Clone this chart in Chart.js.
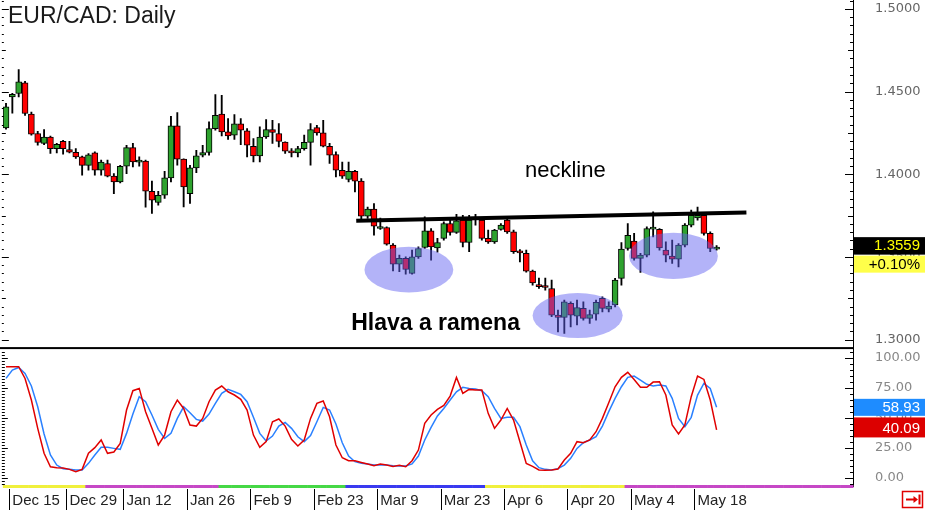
<!DOCTYPE html>
<html>
<head>
<meta charset="utf-8">
<script src="https://cdn.jsdelivr.net/npm/chart.js@4.4.1/dist/chart.umd.min.js"></script>
<style>
  html, body { margin: 0; padding: 0; background: #fff; }
  #wrap { position: relative; width: 925px; height: 510px; }
</style>
</head>
<body>
<div id="wrap"><canvas id="chart" width="925" height="510"></canvas></div>
<script>
// EUR/CAD daily candles, Dec 12 2014 .. May 21 2015
const open = [1.4280,1.4467,1.4488,1.4552,1.4363,1.4246,1.4186,1.4225,1.4155,1.4199,
  1.4149,1.4133,1.4105,1.4053,1.4129,1.4024,1.4065,1.3988,1.3953,1.4048,
  1.4161,1.4073,1.4079,1.3897,1.3829,1.3873,1.3978,1.4292,1.4091,1.3883,
  1.4038,1.4115,1.4131,1.4276,1.4363,1.4256,1.4236,1.4304,1.4262,1.4169,
  1.4111,1.4225,1.4270,1.4246,1.4195,1.4141,1.4129,1.4155,1.4192,1.4282,
  1.4250,1.4169,1.4119,1.4024,1.3968,1.4018,1.3958,1.3746,1.3789,1.3672,
  1.3678,1.3571,1.3456,1.3491,1.3400,1.3500,1.3557,1.3657,1.3555,1.3612,
  1.3702,1.3648,1.3722,1.3587,1.3734,1.3722,1.3612,1.3591,1.3666,1.3722,
  1.3651,1.3531,1.3521,1.3414,1.3326,1.3321,1.3309,1.3148,1.3134,1.3219,
  1.3142,1.3189,1.3128,1.3154,1.3249,1.3184,1.3209,1.3370,1.3551,1.3595,
  1.3491,1.3511,1.3668,1.3666,1.3541,1.3505,1.3486,1.3571,1.3692,1.3736,
  1.3752,1.3642,1.3547];
const high = [1.4429,1.4489,1.4633,1.4562,1.4375,1.4260,1.4270,1.4230,1.4186,1.4205,
  1.4199,1.4155,1.4109,1.4125,1.4135,1.4085,1.4085,1.4004,1.4054,1.4175,
  1.4186,1.4105,1.4085,1.3958,1.3897,1.4018,1.4350,1.4373,1.4093,1.4054,
  1.4145,1.4175,1.4316,1.4482,1.4477,1.4337,1.4361,1.4337,1.4276,1.4216,
  1.4286,1.4331,1.4326,1.4306,1.4196,1.4155,1.4169,1.4236,1.4306,1.4296,
  1.4326,1.4186,1.4135,1.4074,1.4074,1.4024,1.3974,1.3802,1.3823,1.3734,
  1.3682,1.3581,1.3511,1.3500,1.3541,1.3561,1.3742,1.3672,1.3613,1.3712,
  1.3732,1.3758,1.3752,1.3752,1.3758,1.3732,1.3662,1.3666,1.3702,1.3732,
  1.3662,1.3545,1.3541,1.3420,1.3372,1.3372,1.3360,1.3178,1.3239,1.3228,
  1.3239,1.3228,1.3178,1.3239,1.3259,1.3228,1.3370,1.3587,1.3702,1.3642,
  1.3521,1.3682,1.3772,1.3672,1.3591,1.3601,1.3581,1.3702,1.3783,1.3802,
  1.3763,1.3651,1.3568];
const low = [1.4272,1.4369,1.4467,1.4356,1.4236,1.4175,1.4179,1.4125,1.4129,1.4121,
  1.4129,1.4095,1.3994,1.4024,1.3994,1.3994,1.3984,1.3883,1.3947,1.4004,
  1.4044,1.4048,1.3801,1.3763,1.3813,1.3853,1.3953,1.4054,1.3802,1.3823,
  1.4010,1.4105,1.4115,1.4266,1.4231,1.4211,1.4211,1.4179,1.4105,1.4074,
  1.4074,1.4216,1.4186,1.4165,1.4125,1.4105,1.4105,1.4145,1.4054,1.4236,
  1.4165,1.4065,1.3984,1.3974,1.3953,1.3893,1.3722,1.3732,1.3631,1.3666,
  1.3571,1.3416,1.3410,1.3396,1.3396,1.3491,1.3551,1.3480,1.3529,1.3601,
  1.3631,1.3642,1.3561,1.3531,1.3692,1.3601,1.3581,1.3581,1.3662,1.3642,
  1.3521,1.3470,1.3408,1.3329,1.3309,1.3299,1.3138,1.3047,1.3037,1.3077,
  1.3088,1.3118,1.3098,1.3118,1.3168,1.3168,1.3198,1.3329,1.3541,1.3480,
  1.3406,1.3500,1.3621,1.3541,1.3470,1.3460,1.3440,1.3561,1.3682,1.3722,
  1.3631,1.3531,1.3541];
const close = [1.4407,1.4483,1.4558,1.4367,1.4242,1.4192,1.4225,1.4155,1.4181,1.4155,
  1.4133,1.4105,1.4053,1.4117,1.4024,1.4074,1.3988,1.3953,1.4048,1.4161,
  1.4074,1.4082,1.3897,1.3843,1.3873,1.3978,1.4292,1.4091,1.3923,1.4038,
  1.4111,1.4131,1.4276,1.4356,1.4256,1.4231,1.4304,1.4266,1.4175,1.4111,
  1.4225,1.4270,1.4252,1.4199,1.4139,1.4129,1.4155,1.4192,1.4270,1.4250,
  1.4169,1.4115,1.4024,1.3988,1.4018,1.3958,1.3746,1.3789,1.3686,1.3682,
  1.3577,1.3456,1.3491,1.3424,1.3500,1.3551,1.3657,1.3561,1.3587,1.3702,
  1.3648,1.3718,1.3587,1.3722,1.3728,1.3612,1.3591,1.3662,1.3692,1.3651,
  1.3531,1.3524,1.3414,1.3343,1.3320,1.3315,1.3148,1.3134,1.3228,1.3148,
  1.3193,1.3128,1.3152,1.3225,1.3189,1.3203,1.3360,1.3547,1.3631,1.3491,
  1.3511,1.3672,1.3674,1.3555,1.3511,1.3486,1.3571,1.3692,1.3752,1.3752,
  1.3642,1.3551,1.3559];

// Stochastic oscillator (%K red, %D blue)
const stochK = [92.8,92.8,92.8,83,65,41.4,20.6,9.4,8.6,8.3,
  7.2,5.3,7.2,20.6,25.3,31.7,20.6,21.7,28.9,56.7,
  72.8,74.7,55.3,41.4,27.5,35.8,55.3,65,58,44.2,
  43.3,49.7,63.6,73.3,76.7,71.9,69.2,65.6,56.7,35.8,
  25.6,30.3,46.9,49.2,43.3,32.2,26.7,31.7,49.7,62.2,
  64.2,51.1,27.5,16.9,14.4,14.4,13,11.7,10.3,11.7,
  10.8,9.7,10.6,9.4,14.4,23.3,45.6,52.5,57.2,60.6,
  68.3,83.9,70.6,73.9,73.3,73.3,53.9,41.4,48.3,58,
  48.3,30.3,12.2,9.7,6.7,6.4,6.7,7.5,15,20.6,
  30.3,29.4,31.7,38.6,49.7,62.8,76.1,83.9,88.1,82.2,
  75.6,75.6,80,80.3,69.2,44.2,36.7,44.2,67.8,85,
  82.2,65,40.09];
const stochD = [83.1,90,92.2,87.2,76.7,59.4,36.7,19.2,10.8,7.8,
  7.2,6.7,6.7,12.2,19.2,25.6,25.6,24.7,23.9,37.2,
  53.3,67.8,63.6,52.5,40.6,33.1,37.2,49.7,59.4,54.4,
  48.9,47.5,53.3,62.2,70.6,73.9,71.9,69.7,63.6,50.6,
  37.2,30.8,35,43.3,46.4,41.4,34.4,30.3,35.3,46.9,
  58.9,56.7,45,29.4,18.3,13.6,12.2,11.7,10.8,10.8,
  10.8,10.3,10,10,11.7,18.3,31.7,42.2,51.7,58,
  65,71.9,75.6,74.7,74.2,72.8,67.8,58,49.7,50.6,
  50.6,42.8,27.5,14.4,8.6,7.2,6.7,7.8,10.8,16.4,
  24.7,29.4,31.7,34.4,43.3,55.3,66.4,76.1,83.9,85,
  81.7,78.1,76.7,77.5,76.7,66.4,49.7,42.8,50.6,69.2,
  78.9,74.7,58.93];

const priceTicks = [1.30, 1.35, 1.40, 1.45, 1.50];
const stochTicks = [0, 25, 50, 75, 100];
const tickLabels = ['Dec 15', 'Dec 29', 'Jan 12', 'Jan 26', 'Feb 9', 'Feb 23',
  'Mar 9', 'Mar 23', 'Apr 6', 'Apr 20', 'May 4', 'May 18'];
const dayChange = '+0.10%';

// trading days (weekdays, no Christmas / New Year), incl. empty slots on the right
const monthNames = ['Jan','Feb','Mar','Apr','May','Jun','Jul','Aug','Sep','Oct','Nov','Dec'];
const holidays = ['2014-12-25', '2015-01-01'];
const totalSlots = 134;
const dates = [];
const months = [];
let d = new Date(Date.UTC(2014, 11, 12));
while (dates.length < totalSlots) {
  const iso = d.toISOString().slice(0, 10);
  const wd = d.getUTCDay();
  if (wd !== 0 && wd !== 6 && !holidays.includes(iso)) {
    dates.push(monthNames[d.getUTCMonth()] + ' ' + d.getUTCDate());
    months.push(d.getUTCMonth());
  }
  d.setUTCDate(d.getUTCDate() + 1);
}
const monthColors = { 11: '#f0f03c', 0: '#c648c6', 1: '#46d846', 2: '#3a3af0', 3: '#f0f03c', 4: '#c648c6' };

// pattern markup (index / price coordinates)
const neckline = { from: [55.2, 1.3719], to: [116.7, 1.3769] };
const zones = [
  { i: 63.5, p: 1.3423, di: 7.0, dp: 0.0138 },
  { i: 90.1, p: 1.3145, di: 7.1, dp: 0.0136 },
  { i: 105.2, p: 1.3506, di: 7.0, dp: 0.0140 },
];
const notes = [
  { text: 'neckline', i: 81.8, p: 1.3985, font: '22px "Liberation Sans", Arial' },
  { text: 'Hlava a ramena', i: 54.4, p: 1.3057, font: 'bold 23px "Liberation Sans", Arial' },
];

const candleColors = close.map((c, i) => (c >= open[i] ? '#2ea22e' : '#ff0000'));
const n = close.length;

const markup = {
  id: 'markup',
  afterDatasetsDraw(chart) {
    const { ctx, scales: { x, price } } = chart;
    ctx.save();
    ctx.fillStyle = 'rgba(96, 96, 240, 0.48)';
    zones.forEach((z) => {
      const cx = x.getPixelForValue(z.i);
      const cy = price.getPixelForValue(z.p);
      const rx = x.getPixelForValue(z.i + z.di) - cx;
      const ry = price.getPixelForValue(z.p - z.dp) - cy;
      ctx.beginPath();
      ctx.ellipse(cx, cy, rx, ry, 0, 0, Math.PI * 2);
      ctx.fill();
    });
    ctx.strokeStyle = '#000';
    ctx.lineWidth = 4;
    ctx.beginPath();
    ctx.moveTo(x.getPixelForValue(neckline.from[0]), price.getPixelForValue(neckline.from[1]));
    ctx.lineTo(x.getPixelForValue(neckline.to[0]), price.getPixelForValue(neckline.to[1]));
    ctx.stroke();
    ctx.fillStyle = '#000';
    ctx.textBaseline = 'alphabetic';
    ctx.textAlign = 'left';
    notes.forEach((t) => {
      ctx.font = t.font;
      ctx.fillText(t.text, x.getPixelForValue(t.i), price.getPixelForValue(t.p));
    });
    ctx.restore();
  },
  afterDraw(chart) {
    const { ctx, chartArea, scales: { x, price, stoch } } = chart;
    const L = chartArea.left, R = chartArea.right;
    const slot = x.getPixelForValue(1) - x.getPixelForValue(0);
    ctx.save();
    ctx.fillStyle = '#000';

    // axis tick marks on both edges
    for (let k = 259; k <= 301; k++) {
      const y = Math.round(price.getPixelForValue(k * 0.005)) + 0.5;
      const len = k % 10 === 0 ? 8 : (k % 5 === 0 ? 5 : 3);
      ctx.fillRect(R - len, y - 0.5, len, 1);
      ctx.fillRect(L - 1, y - 0.5, len - 1, 1);
    }
    for (let k = -2; k <= 42; k++) {
      const y = Math.round(stoch.getPixelForValue(k * 2.5)) + 0.5;
      if (k % 2 === 0) {
        const len = k % 10 === 0 ? 8 : 3;
        ctx.fillRect(R - len, y - 0.5, len, 1);
      }
      ctx.fillRect(L - 1, y - 0.5, k % 10 === 0 ? 6 : 3, 1);
    }

    // pane separator
    ctx.fillRect(0, price.bottom - 1, R, 2);

    // month colour strip
    let lastColor = monthColors[months[0]];
    for (let i = 0; i < totalSlots; i++) {
      if (i < n) lastColor = monthColors[months[i]];
      const x0 = x.getPixelForValue(i) - slot / 2;
      ctx.fillStyle = lastColor;
      ctx.fillRect(x0, stoch.bottom - 1, slot + 0.5, 3);
    }

    // date separators
    ctx.fillStyle = '#000';
    dates.forEach((lbl, i) => {
      if (tickLabels.includes(lbl)) {
        const x0 = Math.round(x.getPixelForValue(i) - slot / 2);
        ctx.fillRect(x0, stoch.bottom + 3, 1, 24);
      }
    });

    // last value boxes
    ctx.textAlign = 'right';
    ctx.textBaseline = 'middle';
    ctx.font = '15px "Liberation Sans", Arial';
    const yP = price.getPixelForValue(close[n - 1]);
    ctx.fillStyle = '#000';
    ctx.fillRect(R + 1, yP - 10, 925 - R, 17.5);
    ctx.fillStyle = '#ffff4a';
    ctx.fillRect(R + 1, yP + 8.5, 925 - R, 17);
    ctx.fillStyle = '#ffff00';
    ctx.fillText(close[n - 1].toFixed(4), 920, yP - 1);
    ctx.fillStyle = '#000';
    ctx.fillText(dayChange, 920, yP + 17.5);

    const yD = stoch.getPixelForValue(stochD[n - 1]);
    ctx.fillStyle = '#1e8cff';
    ctx.fillRect(R + 1, yD - 8.5, 925 - R, 17);
    ctx.fillStyle = '#fff';
    ctx.fillText(stochD[n - 1].toFixed(2), 920, yD + 0.5);
    const yK = stoch.getPixelForValue(stochK[n - 1]);
    ctx.fillStyle = '#dc0000';
    ctx.fillRect(R + 1, yK - 12.5, 925 - R, 20);
    ctx.fillStyle = '#fff';
    ctx.fillText(stochK[n - 1].toFixed(2), 920, yK - 1.5);

    // title
    ctx.textAlign = 'left';
    ctx.textBaseline = 'alphabetic';
    ctx.fillStyle = '#1a1a1a';
    ctx.font = '23px "Liberation Sans", Arial';
    ctx.fillText('EUR/CAD: Daily', 8, 23);

    // scroll-to-end button
    ctx.strokeStyle = '#e00000';
    ctx.fillStyle = '#e00000';
    ctx.lineWidth = 1.5;
    ctx.strokeRect(902.5, 491.5, 20, 16);
    ctx.lineWidth = 2;
    ctx.beginPath();
    ctx.moveTo(906, 499.5);
    ctx.lineTo(915, 499.5);
    ctx.stroke();
    ctx.beginPath();
    ctx.moveTo(918, 499.5);
    ctx.lineTo(913.5, 496);
    ctx.lineTo(913.5, 503);
    ctx.closePath();
    ctx.fill();
    ctx.fillRect(918.5, 494.5, 2, 10);
    ctx.restore();
  },
};

const axisFont = { family: '"DejaVu Sans"', size: 13, lineHeight: 0.05 };

const ctx = document.getElementById('chart').getContext('2d');
new Chart(ctx, {
  type: 'bar',
  data: {
    labels: dates,
    datasets: [
      {
        type: 'line', label: '%K', data: stochK, yAxisID: 'stoch',
        borderColor: '#e00000', borderWidth: 1.5, pointRadius: 0, tension: 0, order: 0,
      },
      {
        type: 'line', label: '%D', data: stochD, yAxisID: 'stoch',
        borderColor: '#2a80ff', borderWidth: 1.5, pointRadius: 0, tension: 0, order: 1,
      },
      {
        label: 'body', data: open.map((o, i) => [o, close[i]]), yAxisID: 'price',
        backgroundColor: candleColors, borderColor: '#000', borderWidth: 1,
        borderSkipped: false, barThickness: 6, minBarLength: 2, grouped: false, order: 2,
      },
      {
        label: 'wick', data: low.map((l, i) => [l, high[i]]), yAxisID: 'price',
        backgroundColor: '#000', borderWidth: 0, barThickness: 1.2, grouped: false, order: 3,
      },
    ],
  },
  options: {
    responsive: false,
    animation: false,
    events: [],
    layout: { padding: { left: 1, top: 0, right: 0, bottom: 0 } },
    plugins: { legend: { display: false }, tooltip: { enabled: false } },
    scales: {
      x: {
        type: 'category',
        offset: true,
        grid: { display: false, drawTicks: false },
        border: { display: false },
        ticks: {
          autoSkip: false,
          maxRotation: 0,
          align: 'start',
          padding: 6,
          color: '#222',
          font: { family: '"Liberation Sans", Arial', size: 15 },
          callback: function (v) {
            const l = this.getLabelForValue(v);
            return tickLabels.includes(l) ? l : '';
          },
        },
        afterFit: (s) => { s.height = 24; },
      },
      price: {
        type: 'linear',
        position: 'right',
        stack: 'panes',
        stackWeight: 348,
        min: 1.294864,
        max: 1.505136,
        grid: { display: false, drawTicks: true, tickLength: 22 },
        border: { display: true, color: '#000', width: 1 },
        afterBuildTicks: (s) => { s.ticks = priceTicks.map((v) => ({ value: v })); },
        ticks: {
          padding: 0,
          color: '#666',
          font: axisFont,
          callback: (v) => v.toFixed(4),
        },
        afterFit: (s) => { s.width = 72; },
      },
      stoch: {
        type: 'linear',
        position: 'right',
        stack: 'panes',
        stackWeight: 138,
        min: -6.67,
        max: 108.33,
        grid: { display: false, drawTicks: true, tickLength: 22 },
        border: { display: true, color: '#000', width: 1 },
        afterBuildTicks: (s) => { s.ticks = stochTicks.map((v) => ({ value: v })); },
        ticks: {
          padding: 0,
          color: '#888',
          font: axisFont,
          callback: (v) => v.toFixed(2),
        },
        afterFit: (s) => { s.width = 72; },
      },
    },
  },
  plugins: [markup],
});
</script>
</body>
</html>
